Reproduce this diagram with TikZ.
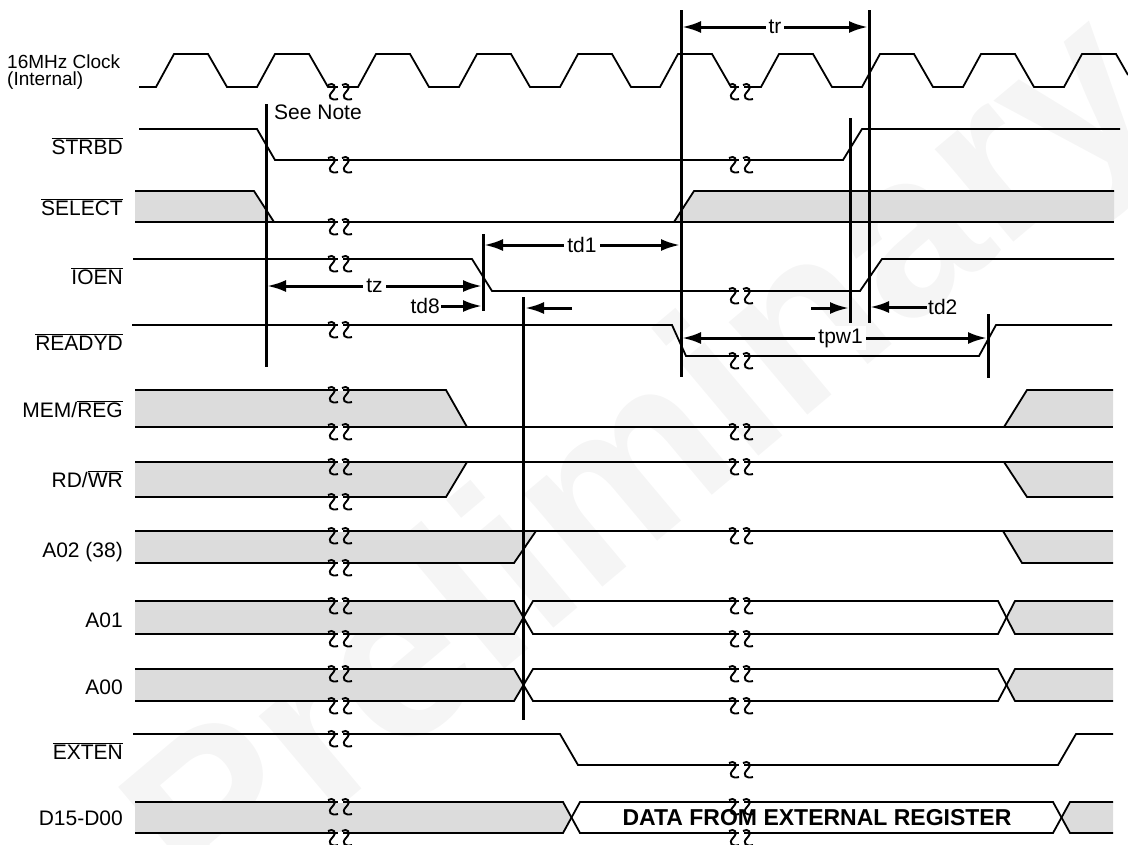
\documentclass[tikz,border=0pt]{standalone}
\usepackage{fontspec}
\setmainfont{Liberation Sans}
\usetikzlibrary{arrows.meta}
\definecolor{busclr}{RGB}{220,220,220}
\definecolor{wmarkclr}{RGB}{245,245,245}
\newcommand{\barsig}[1]{\ensuremath{\overline{\mbox{#1}}}}

\begin{document}
\begin{tikzpicture}[
    x=1pt,
    y=-1pt,
    font=\fontsize{21}{23}\selectfont,
    >=Latex,
    sig/.style={line width=1.8pt, line join=miter},
    busfill/.style={fill=busclr, draw=none},
    marker/.style={line width=3pt},
    dim/.style={line width=3pt, {Latex[length=19pt,width=12pt]}-{Latex[length=19pt,width=12pt]}},
    dimr/.style={line width=3pt, -{Latex[length=19pt,width=12pt]}},
    siglabel/.style={anchor=base east, inner sep=0pt},
    dimlabel/.style={fill=white, inner sep=3pt},
    brk/.pic={
        \draw[white, line width=2pt] (10,0) -- (15,0);
        \draw[line width=1.9pt] (0,-2) .. controls (5,-5) and (10,-1) .. (4,5) .. controls (-1,10) and (3,14) .. (10,12);
        \draw[line width=1.9pt] (14,-2) .. controls (19,-5) and (24,-1) .. (18,5) .. controls (13,10) and (17,14) .. (24,12);
    }
]
\useasboundingbox (0,0) rectangle (1128,844);

% Watermark.
\node[rotate=40, text=wmarkclr, font=\fontsize{230}{230}\selectfont\bfseries] (wmark) at (650,470) {Preliminary};

% Signal names.
\node[anchor=west, align=left, inner sep=0pt, font=\fontsize{19}{17}\selectfont] (clklbl) at (7,72) {16MHz Clock\\(Internal)};
\node[siglabel] (strbdlbl) at (123,154) {\barsig{STRBD}};
\node[siglabel] (selectlbl) at (123,215) {\barsig{SELECT}};
\node[siglabel] (ioenlbl) at (123,284) {\barsig{IOEN}};
\node[siglabel] (readylbl) at (123,350) {\barsig{READYD}};
\node[siglabel] (memlbl) at (123,417) {MEM/\barsig{REG}};
\node[siglabel] (rdlbl) at (123,487) {RD/\barsig{WR}};
\node[siglabel] (a02lbl) at (123,557) {A02 (38)};
\node[siglabel] (a01lbl) at (123,627) {A01};
\node[siglabel] (a00lbl) at (123,694) {A00};
\node[siglabel] (extenlbl) at (123,759) {\barsig{EXTEN}};
\node[siglabel] (datalbl) at (123,825) {D15-D00};

% Clock.
\draw[sig] (139,87) -- (156,87) -- (174,54) -- (208,54) -- (227,87)
    -- (257,87) -- (275,54) -- (309,54) -- (328,87)
    -- (358,87) -- (376,54) -- (410,54) -- (429,87)
    -- (459,87) -- (477,54) -- (511,54) -- (530,87)
    -- (560,87) -- (578,54) -- (612,54) -- (631,87)
    -- (660,87) -- (678,54) -- (712,54) -- (731,87)
    -- (761,87) -- (779,54) -- (813,54) -- (832,87)
    -- (862,87) -- (880,54) -- (914,54) -- (933,87)
    -- (963,87) -- (981,54) -- (1015,54) -- (1034,87)
    -- (1064,87) -- (1082,54) -- (1116,54) -- (1128,75);

% Control strobes.
\draw[sig] (139,129) -- (257,129) -- (275,160) -- (843,160) -- (862,129) -- (1120,129);
\fill[busfill] (135,191) -- (254,191) -- (274,222) -- (135,222) -- cycle;
\fill[busfill] (674,222) -- (694,191) -- (1114,191) -- (1114,222) -- cycle;
\draw[sig] (135,191) -- (254,191) -- (274,222);
\draw[sig] (135,222) -- (1114,222);
\draw[sig] (674,222) -- (694,191) -- (1114,191);
\draw[sig] (133,259) -- (472,259) -- (492,291) -- (860,291) -- (882,259) -- (1114,259);
\draw[sig] (132,325) -- (672,325) -- (686,356) -- (979,356) -- (996,325) -- (1112,325);

% MEM/REG, RD/WR, A02.
\fill[busfill] (135,390) -- (446,390) -- (467,427) -- (135,427) -- cycle;
\fill[busfill] (1004,427) -- (1027,390) -- (1113,390) -- (1113,427) -- cycle;
\draw[sig] (135,390) -- (446,390) -- (467,427);
\draw[sig] (135,427) -- (1113,427);
\draw[sig] (1004,427) -- (1027,390) -- (1113,390);

\fill[busfill] (135,462) -- (467,462) -- (446,497) -- (135,497) -- cycle;
\fill[busfill] (1004,462) -- (1113,462) -- (1113,497) -- (1027,497) -- cycle;
\draw[sig] (135,462) -- (1113,462);
\draw[sig] (135,497) -- (446,497) -- (467,462);
\draw[sig] (1004,462) -- (1027,497) -- (1113,497);

\fill[busfill] (135,531) -- (536,531) -- (514,563) -- (135,563) -- cycle;
\fill[busfill] (1003,531) -- (1113,531) -- (1113,563) -- (1022,563) -- cycle;
\draw[sig] (135,531) -- (1113,531);
\draw[sig] (135,563) -- (514,563) -- (536,531);
\draw[sig] (1003,531) -- (1022,563) -- (1113,563);

% A01, A00.
\fill[busfill] (135,601) -- (514,601) -- (523.5,617.5) -- (514,634) -- (135,634) -- cycle;
\fill[busfill] (1006.5,617.5) -- (1015,601) -- (1113,601) -- (1113,634) -- (1015,634) -- cycle;
\draw[sig] (135,601) -- (514,601) -- (533,634) -- (998,634) -- (1015,601) -- (1113,601);
\draw[sig] (135,634) -- (514,634) -- (533,601) -- (998,601) -- (1015,634) -- (1113,634);

\fill[busfill] (135,669) -- (514,669) -- (523.5,685) -- (514,701) -- (135,701) -- cycle;
\fill[busfill] (1006.5,685) -- (1015,669) -- (1113,669) -- (1113,701) -- (1015,701) -- cycle;
\draw[sig] (135,669) -- (514,669) -- (533,701) -- (998,701) -- (1015,669) -- (1113,669);
\draw[sig] (135,701) -- (514,701) -- (533,669) -- (998,669) -- (1015,701) -- (1113,701);

% EXTEN and data bus.
\draw[sig] (133,734) -- (560,734) -- (578,765) -- (1058,765) -- (1076,734) -- (1113,734);

\fill[busfill] (135,802) -- (563,802) -- (571.5,817.5) -- (563,833) -- (135,833) -- cycle;
\fill[busfill] (1061.5,817.5) -- (1070,802) -- (1113,802) -- (1113,833) -- (1070,833) -- cycle;
\draw[sig] (135,802) -- (563,802) -- (580,833) -- (1053,833) -- (1070,802) -- (1113,802);
\draw[sig] (135,833) -- (563,833) -- (580,802) -- (1053,802) -- (1070,833) -- (1113,833);
\node[font=\fontsize{23}{25}\selectfont\bfseries] (datatxt) at (817,818) {DATA FROM EXTERNAL REGISTER};

% Time breaks.
\pic at (328,87) {brk};
\pic at (328,160) {brk};
\pic at (328,222) {brk};
\pic at (328,259) {brk};
\pic at (328,325) {brk};
\pic at (328,390) {brk};
\pic at (328,427) {brk};
\pic at (328,462) {brk};
\pic at (328,497) {brk};
\pic at (328,531) {brk};
\pic at (328,563) {brk};
\pic at (328,601) {brk};
\pic at (328,634) {brk};
\pic at (328,669) {brk};
\pic at (328,701) {brk};
\pic at (328,734) {brk};
\pic at (328,802) {brk};
\pic at (328,833) {brk};

\pic at (729,87) {brk};
\pic at (729,160) {brk};
\pic at (729,291) {brk};
\pic at (729,356) {brk};
\pic at (729,427) {brk};
\pic at (729,462) {brk};
\pic at (729,531) {brk};
\pic at (729,601) {brk};
\pic at (729,634) {brk};
\pic at (729,669) {brk};
\pic at (729,701) {brk};
\pic at (729,765) {brk};
\pic at (729,802) {brk};
\pic at (729,833) {brk};

% Reference lines.
\draw[marker] (266,104) -- (266,367);
\draw[marker] (483,234) -- (483,311);
\draw[marker] (523,297) -- (523,720);
\draw[marker] (681,10) -- (681,377);
\draw[marker] (850,118) -- (850,323);
\draw[marker] (869,10) -- (869,323);
\draw[marker] (988,314) -- (988,378);
\node[anchor=west, inner sep=0pt] (notelbl) at (274,112) {See Note};

% Timing parameters.
\draw[dim] (682,27) -- node[dimlabel] (trlbl) {tr} (868,27);
\draw[dim] (484,245) -- node[dimlabel] (td1lbl) {td1} (680,245);
\draw[dim] (267,286) -- node[dimlabel] (tzlbl) {tz} (482,286);
\node[anchor=east, inner sep=1pt] (td8lbl) at (441,306) {td8};
\draw[dimr] (td8lbl.east) -- (482,306);
\draw[dimr] (572,308) -- (525,308);
\draw[dimr] (811,308) -- (849,308);
\node[anchor=west, inner sep=1pt] (td2lbl) at (927,307) {td2};
\draw[dimr] (td2lbl.west) -- (870,307);
\draw[dim] (682,338) -- node[dimlabel, pos=0.52] (tpwlbl) {tpw1} (987,338);

\end{tikzpicture}
\end{document}
